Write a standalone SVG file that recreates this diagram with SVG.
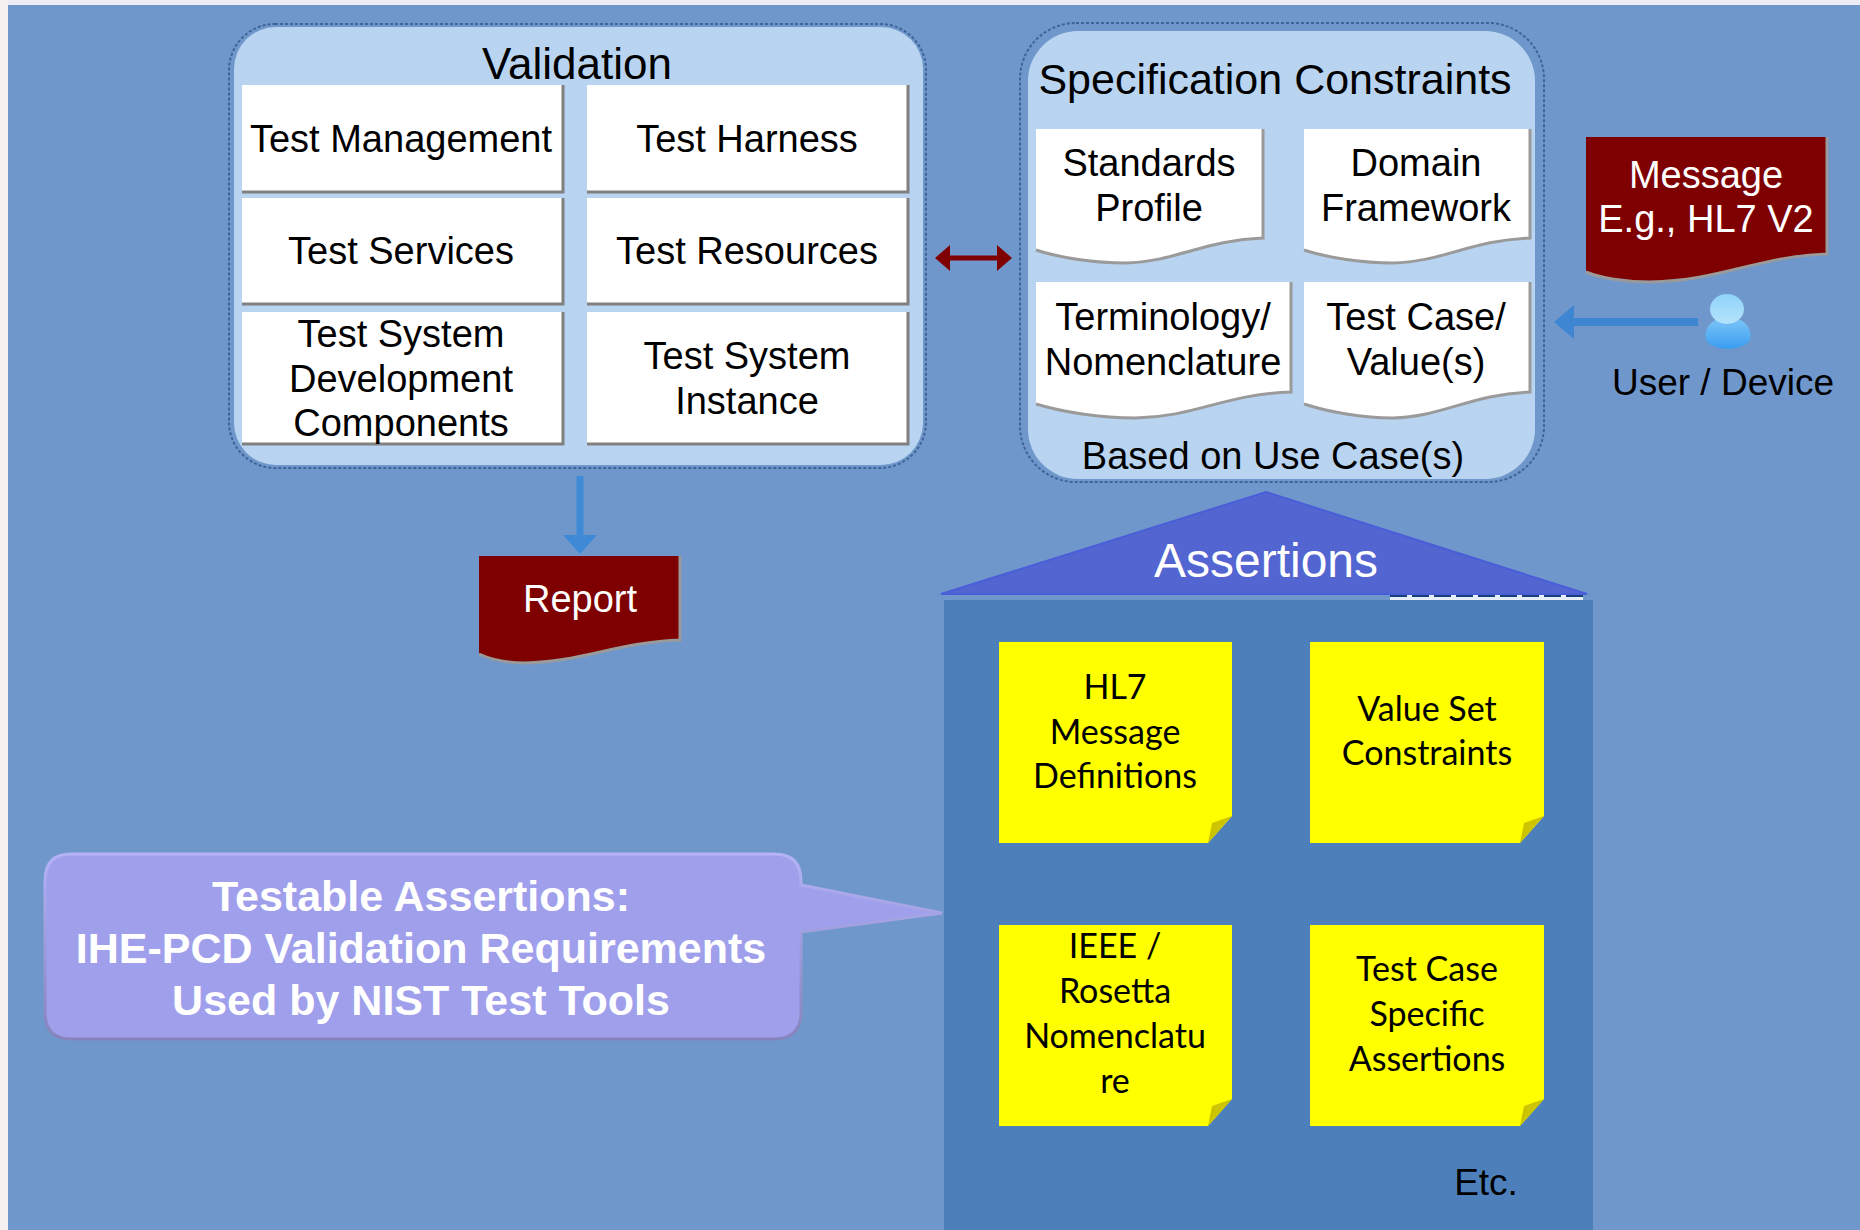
<svg xmlns="http://www.w3.org/2000/svg" width="1860" height="1230" viewBox="0 0 1860 1230">
<defs>
<linearGradient id="head" x1="0" y1="0" x2="0" y2="1"><stop offset="0" stop-color="#8fd3fa"/><stop offset="1" stop-color="#b5e3fc"/></linearGradient>
<linearGradient id="body" x1="0" y1="0" x2="0" y2="1"><stop offset="0" stop-color="#7fc8f8"/><stop offset="1" stop-color="#3a9cf0"/></linearGradient>
<linearGradient id="cal" x1="0" y1="0" x2="0" y2="1"><stop offset="0" stop-color="#b4b3f7"/><stop offset="1" stop-color="#8683bd"/></linearGradient>
</defs>
<style>
text{font-family:"Liberation Sans",Arial,sans-serif;text-anchor:middle;fill:#000}
.t{font-size:38px}
.w{fill:#fff}
.n{font-family:Lato,"Open Sans",sans-serif;font-size:34px}
.box{fill:#fff;stroke:none}
.sh{fill:none;stroke:#808080;stroke-width:3}
.panel{fill:#b9d4f0}
.dash{fill:none;stroke:#3f6496;stroke-width:2;stroke-dasharray:3 2}
.doc{fill:#fff}
.edge{fill:none;stroke:#9a9a9a;stroke-width:3}
.red{fill:#7f0000}
.note{fill:#ff0}
.fold{fill:#cdc400}
</style>
<rect width="1860" height="1230" fill="#6f97cb"/>
<rect width="1860" height="5" fill="#ececf2"/>
<rect width="8" height="1230" fill="#f4f2f0"/>

<g id="validation">
<rect class="panel" x="234" y="27" width="689" height="438" rx="42"/>
<rect class="dash" x="229" y="24" width="697" height="444" rx="46"/>
<text x="577" y="79" style="font-size:44px">Validation</text>
</g>
<g id="test-management"><rect class="box" x="242" y="85" width="320" height="107"/><path class="sh" d="M242 192H563V85"/><text class="t" x="401" y="152">Test Management</text></g>
<g id="test-harness"><rect class="box" x="587" y="85" width="320" height="107"/><path class="sh" d="M587 192H908V85"/><text class="t" x="747" y="152">Test Harness</text></g>
<g id="test-services"><rect class="box" x="242" y="198" width="320" height="106"/><path class="sh" d="M242 304H563V198"/><text class="t" x="401" y="264">Test Services</text></g>
<g id="test-resources"><rect class="box" x="587" y="198" width="320" height="106"/><path class="sh" d="M587 304H908V198"/><text class="t" x="747" y="264">Test Resources</text></g>
<g id="test-system-dev"><rect class="box" x="242" y="312" width="320" height="132"/><path class="sh" d="M242 444H563V312"/><text class="t" x="401" y="347">Test System</text><text class="t" x="401" y="392">Development</text><text class="t" x="401" y="436">Components</text></g>
<g id="test-system-instance"><rect class="box" x="587" y="312" width="320" height="132"/><path class="sh" d="M587 444H908V312"/><text class="t" x="747" y="369">Test System</text><text class="t" x="747" y="414">Instance</text></g>

<g id="spec">
<rect class="panel" x="1028" y="31" width="507" height="448" rx="50"/>
<rect class="dash" x="1020" y="23" width="524" height="459" rx="56"/>
<text x="1275" y="94" style="font-size:43px">Specification Constraints</text>
<text class="t" x="1273" y="469">Based on Use Case(s)</text>
</g>
<g id="standards"><path class="doc" d="M1036 129H1263V238C1205 240 1175 262 1125 263C1095 263 1060 258 1036 250Z"/><path class="edge" d="M1263 129V238C1205 240 1175 262 1125 263C1095 263 1060 258 1036 250"/><text class="t" x="1149" y="176">Standards</text><text class="t" x="1149" y="221">Profile</text></g>
<g id="domain"><path class="doc" d="M1304 129H1530V238C1472 240 1442 262 1393 263C1363 263 1328 258 1304 250Z"/><path class="edge" d="M1530 129V238C1472 240 1442 262 1393 263C1363 263 1328 258 1304 250"/><text class="t" x="1416" y="176">Domain</text><text class="t" x="1416" y="221">Framework</text></g>
<g id="terminology"><path class="doc" d="M1036 282H1291V392C1225 394 1195 417 1136 418C1100 418 1062 412 1036 404Z"/><path class="edge" d="M1291 282V392C1225 394 1195 417 1136 418C1100 418 1062 412 1036 404"/><text class="t" x="1163" y="330">Terminology/</text><text class="t" x="1163" y="375">Nomenclature</text></g>
<g id="test-case"><path class="doc" d="M1304 282H1530V392C1472 394 1442 417 1393 418C1363 418 1328 412 1304 404Z"/><path class="edge" d="M1530 282V392C1472 394 1442 417 1393 418C1363 418 1328 412 1304 404"/><text class="t" x="1416" y="330">Test Case/</text><text class="t" x="1416" y="375">Value(s)</text></g>

<g id="message"><path class="red" d="M1586 137H1827V254C1760 256 1720 281 1650 282C1625 282 1600 278 1586 272Z"/><path class="edge" d="M1827 137V254C1760 256 1720 281 1650 282C1625 282 1600 278 1586 272"/><text class="t w" x="1706" y="188">Message</text><text class="t w" x="1706" y="232">E.g., HL7 V2</text></g>

<g id="user"><path d="M1706 340C1703 326 1715 317 1728 317C1741 317 1753 326 1750 340C1747 346 1735 349 1728 349C1720 349 1709 346 1706 340Z" fill="url(#body)"/><ellipse cx="1727" cy="309" rx="17" ry="15" fill="url(#head)"/><text class="t" x="1723" y="395" style="font-size:37px">User / Device</text></g>

<g id="report"><path class="red" d="M479 556H680V640C620 642 580 662 525 663C505 663 490 659 479 654Z"/><path class="edge" d="M680 556V640C620 642 580 662 525 663C505 663 490 659 479 654"/><text class="t w" x="580" y="612">Report</text></g>

<g id="assertions">
<path d="M1266 492L1587 594H941Z" fill="#5365d0" stroke="#4a5ed8" stroke-width="2"/>
<rect x="1390" y="595" width="193" height="5" fill="#e6eef8"/>
<path d="M1390 596H1583" stroke="#163f78" stroke-width="2" stroke-dasharray="17 5" fill="none"/>
<rect x="944" y="600" width="649" height="630" fill="#4d7fbb"/>
<text class="w" x="1266" y="577" style="font-size:48px">Assertions</text>
<text x="1486" y="1195" style="font-size:37px">Etc.</text>
</g>
<g id="note-hl7"><path class="note" d="M999 642H1232V816L1208 843H999Z"/><path class="fold" d="M1232 816L1212 823L1208 843Z"/><text class="n" x="1115" y="699">HL7</text><text class="n" x="1115" y="744">Message</text><text class="n" x="1115" y="788">Definitions</text></g>
<g id="note-value"><path class="note" d="M1310 642H1544V816L1520 843H1310Z"/><path class="fold" d="M1544 816L1524 823L1520 843Z"/><text class="n" x="1427" y="721">Value Set</text><text class="n" x="1427" y="765">Constraints</text></g>
<g id="note-ieee"><path class="note" d="M999 925H1232V1099L1208 1126H999Z"/><path class="fold" d="M1232 1099L1212 1106L1208 1126Z"/><text class="n" x="1115" y="958">IEEE /</text><text class="n" x="1115" y="1003">Rosetta</text><text class="n" x="1115" y="1048">Nomenclatu</text><text class="n" x="1115" y="1093">re</text></g>
<g id="note-case"><path class="note" d="M1310 925H1544V1099L1520 1126H1310Z"/><path class="fold" d="M1544 1099L1524 1106L1520 1126Z"/><text class="n" x="1427" y="981">Test Case</text><text class="n" x="1427" y="1026">Specific</text><text class="n" x="1427" y="1071">Assertions</text></g>

<g id="callout">
<path d="M71 854H774Q801 854 801 881V885L942 913L801 932V1012Q801 1039 774 1039H71Q45 1039 45 1012V881Q45 854 71 854Z" fill="#a09fec" stroke="url(#cal)" stroke-width="3"/>
<g style="font-weight:bold;font-size:43px"><text class="w" x="421" y="911">Testable Assertions:</text><text class="w" x="421" y="963">IHE-PCD Validation Requirements</text><text class="w" x="421" y="1015">Used by NIST Test Tools</text></g>
</g>

<g id="connectors">
<path d="M948 258H999" stroke="#7f0000" stroke-width="5" fill="none"/>
<path d="M935 258L950 245V271Z" fill="#7f0000"/><path d="M1012 258L997 245V271Z" fill="#7f0000"/>
<path d="M1698 322H1570" stroke="#3f86d2" stroke-width="8" fill="none"/>
<path d="M1554 322L1574 305V339Z" fill="#3f86d2"/>
<path d="M580 476V540" stroke="#3f8ad6" stroke-width="7" fill="none"/>
<path d="M580 554L563 535H597Z" fill="#3f8ad6"/>
</g>
</svg>
